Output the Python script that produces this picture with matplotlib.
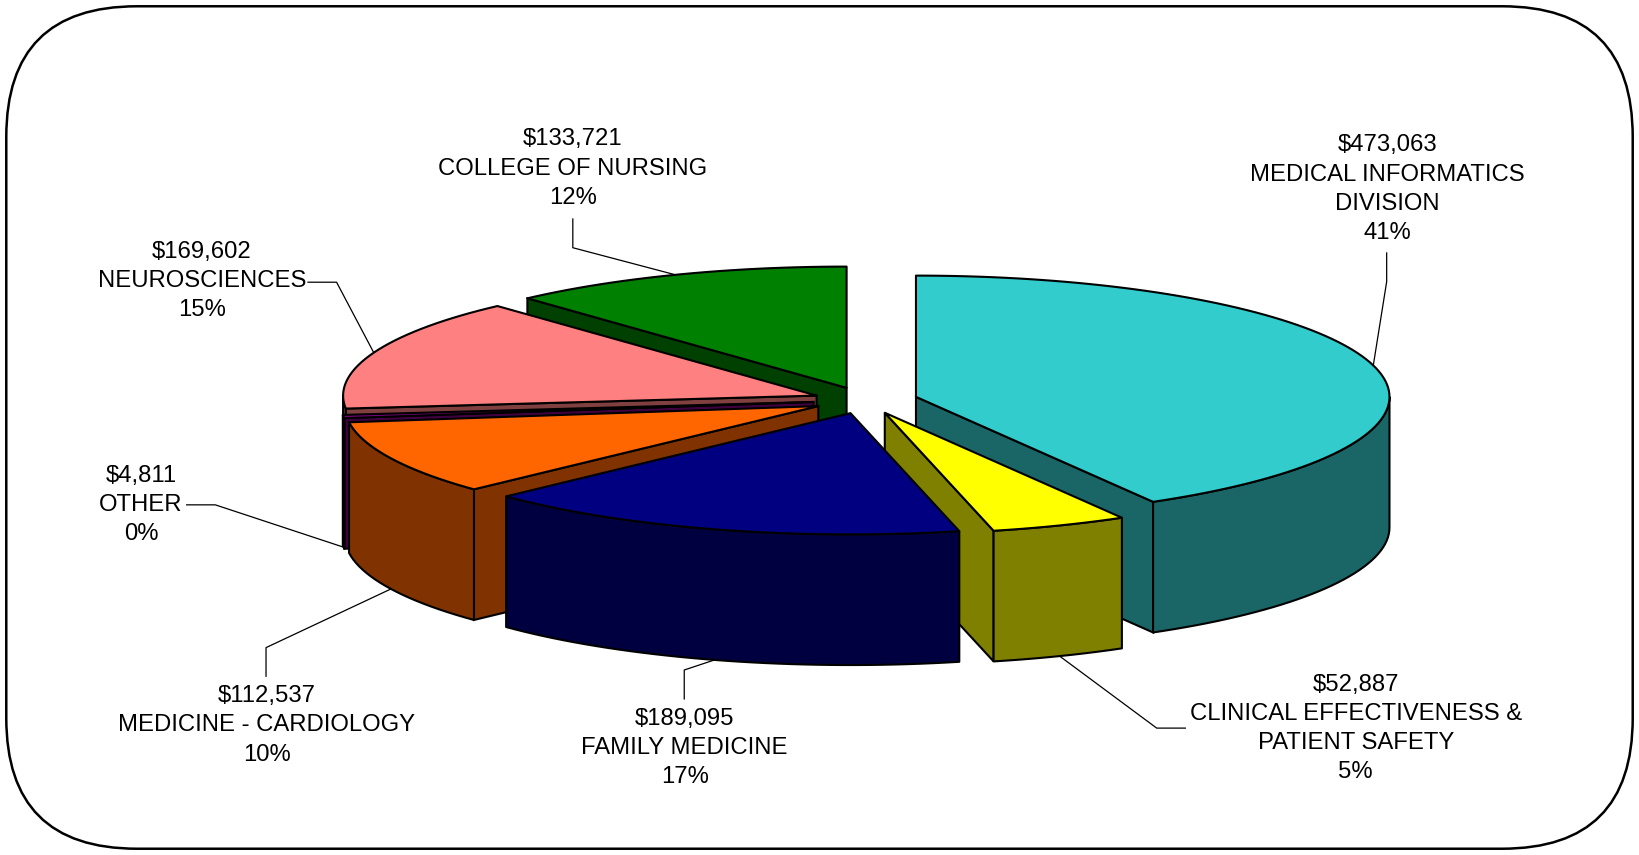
import numpy as np
import matplotlib.pyplot as plt
from matplotlib.patches import Polygon, FancyBboxPatch

# slice data, clockwise from 12 o'clock
names = ["MEDICAL INFORMATICS\nDIVISION", "CLINICAL EFFECTIVENESS &\nPATIENT SAFETY",
         "FAMILY MEDICINE", "MEDICINE - CARDIOLOGY", "OTHER", "NEUROSCIENCES",
         "COLLEGE OF NURSING"]
values = [473063, 52887, 189095, 112537, 4811, 169602, 133721]
pcts = ["41%", "5%", "17%", "10%", "0%", "15%", "12%"]

top_cols = ["#33CCCC", "#FFFF00", "#000080", "#FF6600", "#800080", "#FF8080", "#008000"]
side_cols = ["#1A6666", "#808000", "#000040", "#803300", "#400040", "#804040", "#004000"]

# label layout (text centre, leader start, leader elbow)
lab_xy = [(1327, 181), (1297, 697), (655, 715.5), (255, 694), (135, 483), (193, 269), (548, 161.5)]
lead = [[(1326.6, 242), (1326.6, 269.5)], [(1134, 696.6), (1106.6, 696.6)],
        [(654.6, 668.7), (654.6, 641)], [(254.5, 647), (254.5, 619.6)],
        [(178.6, 483), (206, 483)], [(294.7, 270), (322, 270)],
        [(548, 209.5), (548, 237)]]

# pie geometry (screen units)
cx0, cy0 = 828, 383
rx, ry = 453, 116
depth = 125
expl = 50

#_____________________________________________________________________________
def edge(cx, cy, t, dz=0):
    return (cx + rx*np.sin(t), cy - ry*np.cos(t) + dz)

def arc(cx, cy, t1, t2, dz=0, n=120):
    tt = np.linspace(t1, t2, max(int(n*(t2-t1)/np.pi), 2))
    return [edge(cx, cy, t, dz) for t in tt]

#_____________________________________________________________________________
fig = plt.figure(figsize=(16.39, 8.55), dpi=100)
ax = fig.add_axes([0, 0, 1, 1])
ax.set_xlim(0, 1568)
ax.set_ylim(818, 0)
ax.axis("off")

frame = FancyBboxPatch((6, 6), 1556, 806, boxstyle="round,pad=0,rounding_size=125",
                       fc="white", ec="black", lw=1.8, zorder=0)
ax.add_patch(frame)

tot = float(sum(values))
cum = np.concatenate([[0], np.cumsum(values)]) / tot * 2*np.pi

slices = []
for i in range(len(values)):
    a, b = cum[i], cum[i+1]
    m = 0.5*(a + b)
    cx = cx0 + expl*np.sin(m)
    cy = cy0 - expl*np.cos(m)*ry/rx
    slices.append((i, a, b, m, cx, cy))

lw = 1.5
z = 1
for i, a, b, m, cx, cy in sorted(slices, key=lambda s: s[5]):
    c = (cx, cy)
    cb = (cx, cy + depth)
    # cut faces
    if np.sin(a) < -1e-6:
        ea = edge(cx, cy, a)
        ax.add_patch(Polygon([c, ea, (ea[0], ea[1]+depth), cb], closed=True,
                             fc=side_cols[i], ec="black", lw=lw, zorder=z))
        z += 1
    if np.sin(b) > 1e-6:
        eb = edge(cx, cy, b)
        ax.add_patch(Polygon([c, eb, (eb[0], eb[1]+depth), cb], closed=True,
                             fc=side_cols[i], ec="black", lw=lw, zorder=z))
        z += 1
    # outer wall (front half only)
    t1, t2 = max(a, np.pi/2), min(b, 1.5*np.pi)
    if t2 > t1:
        pts = arc(cx, cy, t1, t2) + arc(cx, cy, t1, t2, depth)[::-1]
        ax.add_patch(Polygon(pts, closed=True, fc=side_cols[i], ec="black",
                             lw=lw, joinstyle="round", zorder=z))
        z += 1
    # top face
    pts = [c] + arc(cx, cy, a, b)
    ax.add_patch(Polygon(pts, closed=True, fc=top_cols[i], ec="black",
                         lw=lw, joinstyle="round", zorder=z))
    z += 1

# labels and leader lines
for i, a, b, m, cx, cy in slices:
    anc = edge(cx, cy, m, depth if np.cos(m) < 0 else 0)
    p0, p1 = lead[i]
    ax.plot([p0[0], p1[0], anc[0]], [p0[1], p1[1], anc[1]], color="black",
            lw=0.9, zorder=50)
    txt = "${:,}\n{}\n{}".format(values[i], names[i], pcts[i])
    ax.text(lab_xy[i][0], lab_xy[i][1], txt, ha="center", va="center",
            multialignment="center", fontsize=17.2, family="Liberation Sans",
            linespacing=1.43, zorder=60)

fig.savefig("out.png", dpi=100)
plt.close()
